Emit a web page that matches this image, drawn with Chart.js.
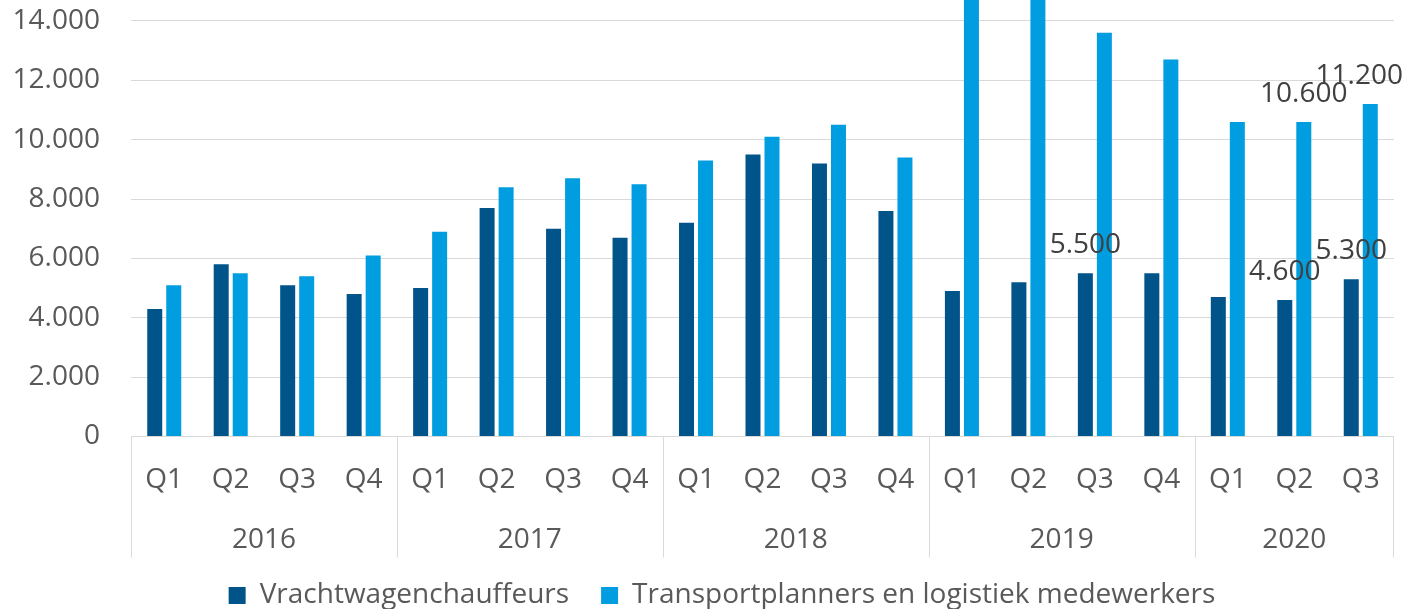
<!DOCTYPE html>
<html>
<head>
<meta charset="utf-8">
<script src="https://cdn.jsdelivr.net/npm/chart.js@4"></script>
<style>
  html, body { margin: 0; padding: 0; background: #fff; }
</style>
</head>
<body>
<canvas id="myChart" width="1407" height="609"></canvas>
<script>
// categories
const quarters = ['Q1', 'Q2', 'Q3', 'Q4', 'Q1', 'Q2', 'Q3', 'Q4', 'Q1', 'Q2', 'Q3', 'Q4',
                  'Q1', 'Q2', 'Q3', 'Q4', 'Q1', 'Q2', 'Q3'];
const years = ['2016', '2017', '2018', '2019', '2020'];
const quartersPerYear = [4, 4, 4, 4, 3];

// series
const vrachtwagen = [4300, 5800, 5100, 4800, 5000, 7700, 7000, 6700, 7200, 9500, 9200, 7600,
                     4900, 5200, 5500, 5500, 4700, 4600, 5300];
const transport = [5100, 5500, 5400, 6100, 6900, 8400, 8700, 8500, 9300, 10100, 10500, 9400,
                   16800, 16400, 13600, 12700, 10600, 10600, 11200];

// y axis ticks (the top of the picture is cut off a bit above 14.000)
const yTicks = [0, 2000, 4000, 6000, 8000, 10000, 12000, 14000];
const yMax = 14707;

// which bars carry a value label
const labelledDark = [14, 17, 18];
const labelledLight = [17, 18];

const textColor = '#595959';
const gridColor = '#d9d9d9';

Chart.defaults.font.family = "'Open Sans'";
Chart.defaults.font.size = 28;
Chart.defaults.color = textColor;

function fmt(v) {
    return String(v).replace(/\B(?=(\d{3})+(?!\d))/g, '.');
}

// second row of the category axis: years + separators
const yearAxis = {
    id: 'yearAxis',
    afterLayout(chart) {
        // legend sits a bit right of centre in the original
        chart.legend.left += 50;
    },
    afterDraw(chart) {
        const ctx = chart.ctx;
        const x = chart.scales.x;
        const area = chart.chartArea;
        const half = (x.getPixelForValue(1) - x.getPixelForValue(0)) / 2;
        const lineBottom = area.bottom + 121;
        ctx.save();
        ctx.strokeStyle = gridColor;
        ctx.lineWidth = 1;
        ctx.fillStyle = textColor;
        ctx.font = "28px 'Open Sans'";
        ctx.textAlign = 'center';
        ctx.textBaseline = 'middle';
        let start = 0;
        years.forEach((year, i) => {
            const end = start + quartersPerYear[i] - 1;
            const left = x.getPixelForValue(start) - half;
            const right = x.getPixelForValue(end) + half;
            ctx.beginPath();
            ctx.moveTo(Math.round(left) + 0.5, area.bottom);
            ctx.lineTo(Math.round(left) + 0.5, lineBottom);
            if (i == years.length - 1) {
                ctx.moveTo(Math.round(right) - 0.5, area.bottom);
                ctx.lineTo(Math.round(right) - 0.5, lineBottom);
            }
            ctx.stroke();
            ctx.fillText(year, (left + right) / 2, area.bottom + 104);
            start = end + 1;
        });
        ctx.restore();
    }
};

const valueLabels = {
    id: 'valueLabels',
    afterDatasetsDraw(chart) {
        const ctx = chart.ctx;
        ctx.save();
        ctx.fillStyle = '#404040';
        ctx.font = "28px 'Open Sans'";
        ctx.textAlign = 'center';
        ctx.textBaseline = 'middle';
        [[0, labelledDark], [1, labelledLight]].forEach(([ds, idxs]) => {
            const meta = chart.getDatasetMeta(ds);
            idxs.forEach(i => {
                const bar = meta.data[i];
                const text = fmt(chart.data.datasets[ds].data[i]);
                const w = ctx.measureText(text).width;
                const xPos = Math.min(bar.x, chart.width - 4 - w / 2);
                ctx.fillText(text, xPos, bar.y - 28);
            });
        });
        ctx.restore();
    }
};

let ctx = document.getElementById('myChart');
let myChart = new Chart(ctx, {
    type: 'bar',
    data: {
        labels: quarters,
        datasets: [{
            label: 'Vrachtwagenchauffeurs',
            data: vrachtwagen,
            backgroundColor: '#00548a',
            borderWidth: 0,
            categoryPercentage: 0.572,
            barPercentage: 0.789
        }, {
            label: 'Transportplanners en logistiek medewerkers',
            data: transport,
            backgroundColor: '#009ee0',
            borderWidth: 0,
            categoryPercentage: 0.572,
            barPercentage: 0.789
        }]
    },
    options: {
        responsive: false,
        animation: false,
        layout: {
            padding: { top: 0, right: 13, bottom: 0, left: 0 }
        },
        scales: {
            x: {
                grid: { display: false },
                border: { display: false },
                ticks: {
                    padding: 19,
                    maxRotation: 0,
                    autoSkip: false,
                    color: textColor
                },
                afterFit: function (scale) {
                    scale.height = 113;
                }
            },
            y: {
                min: 0,
                max: yMax,
                grid: {
                    drawTicks: false,
                    color: gridColor
                },
                border: { display: false },
                ticks: {
                    padding: 31,
                    color: textColor,
                    callback: v => fmt(v)
                },
                afterBuildTicks: function (scale) {
                    scale.ticks = yTicks.map(v => ({ value: v }));
                },
                afterFit: function (scale) {
                    scale.width = 131;
                    scale.paddingTop = 0;
                    scale.paddingBottom = 0;
                }
            }
        },
        plugins: {
            legend: {
                position: 'bottom',
                maxHeight: 59.5,
                labels: {
                    boxWidth: 17,
                    boxHeight: 17,
                    padding: 32,
                    color: textColor
                }
            },
            tooltip: { enabled: false }
        }
    },
    plugins: [yearAxis, valueLabels]
});
</script>
</body>
</html>
